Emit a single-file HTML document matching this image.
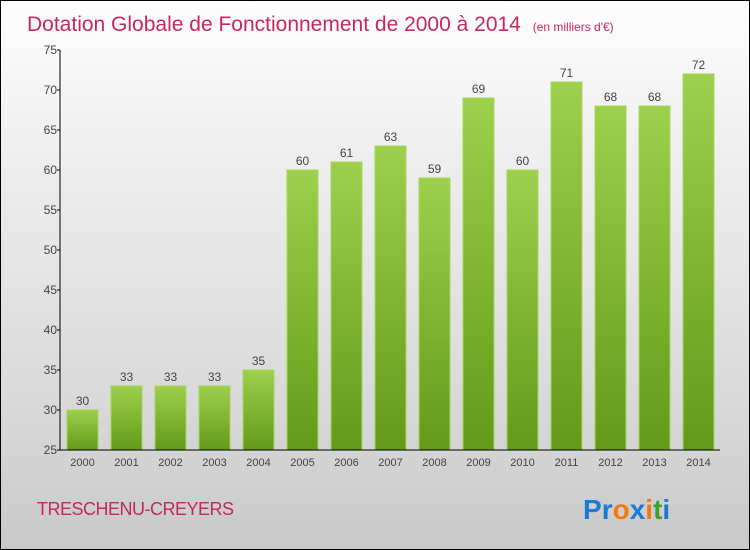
<!DOCTYPE html>
<html><head><meta charset="utf-8"><style>
html,body{margin:0;padding:0}
body{width:750px;height:550px;overflow:hidden;font-family:"Liberation Sans",sans-serif}
#wrap{position:relative;width:748px;height:548px;border:1px solid #000;background:linear-gradient(#fefefe,#f0f0f0 25%,#d8d8d8 75%,#c9c9c9)}
</style></head><body>
<div id="wrap">
<svg id="chart" width="748" height="548" style="position:absolute;left:0;top:0">
<defs><linearGradient id="g" x1="0" y1="0" x2="0" y2="1"><stop offset="0" stop-color="#9dd04c"/><stop offset="1" stop-color="#64991a"/></linearGradient></defs>
<text x="26" y="30" font-size="21" fill="#c8285f">Dotation Globale de Fonctionnement de 2000 à 2014 <tspan font-size="12" dx="6">(en milliers d'€)</tspan></text>
<text x="36" y="514" font-size="18" fill="#c02a5c" letter-spacing="-0.5">TRESCHENU-CREYERS</text>
<g font-size="28" font-weight="bold" font-family="'Liberation Sans',sans-serif">
<text x="582" y="518"><tspan fill="#1a7ad6">P</tspan><tspan fill="#1a7ad6">r</tspan><tspan fill="#f07a10">o</tspan><tspan fill="#1a7ad6">x</tspan><tspan fill="#f07a10">i</tspan><tspan fill="#3aa030">t</tspan><tspan fill="#1a7ad6">i</tspan></text></g>
<g id="plot"></g>
</svg>
</div>
<script>
const years=["2000","2001","2002","2003","2004","2005","2006","2007","2008","2009","2010","2011","2012","2013","2014"];
const values=[30,33,33,33,35,60,61,63,59,69,60,71,68,68,72];
const yTicks=[25,30,35,40,45,50,55,60,65,70,75];
const NS="http://www.w3.org/2000/svg";
const plot=document.getElementById('plot');
const yMin=25,yMax=75,top0=49,bot=449,left=59,right=719;
function y(v){return bot-(v-yMin)/(yMax-yMin)*(bot-top0);}
function xc(i){return 81.5+i*44;}
function mk(t,a){const e=document.createElementNS(NS,t);for(const k in a)e.setAttribute(k,a[k]);plot.appendChild(e);return e;}
values.forEach((v,i)=>{
 const r=mk('rect',{x:xc(i)-15.5,y:y(v),width:31,height:bot-y(v),fill:'url(#g)',stroke:'#a6d85a','stroke-width':1});
 
 
 const t=mk('text',{x:xc(i),y:y(v)-5,'text-anchor':'middle','font-size':12,fill:'#444'});
 t.textContent=v;
 
 
 const xl=mk('text',{x:xc(i),y:bot+16,'text-anchor':'middle','font-size':11,fill:'#444'});
 xl.textContent=years[i];
 
 
});
yTicks.forEach(v=>{
 mk('line',{x1:left-3,x2:left,y1:y(v),y2:y(v),stroke:'#000'});
 const t=mk('text',{x:left-3,y:y(v)+4,'text-anchor':'end','font-size':12,fill:'#444'});
 t.textContent=v;
 
 
});
const ya=mk('line',{x1:left,x2:left,y1:top0,y2:bot,stroke:'#000'});


const xa=mk('line',{x1:left,x2:right,y1:bot,y2:bot,stroke:'#000'});


</script>
</body></html>
